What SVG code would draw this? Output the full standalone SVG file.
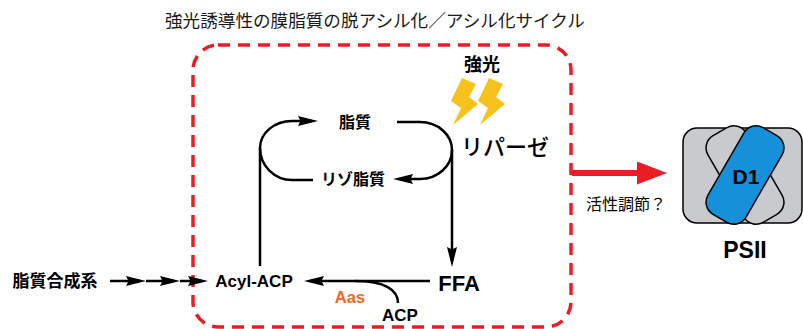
<svg xmlns="http://www.w3.org/2000/svg" width="803" height="329" viewBox="0 0 803 329">
  <style>
    .jp { font-family: "Noto Sans CJK JP", "Noto Sans", sans-serif; }
    .jpb { font-family: "Noto Sans CJK JP", "Noto Sans", sans-serif; font-weight: bold; }
    .lat { font-family: "Liberation Sans", Arial, "Noto Sans CJK JP", sans-serif; font-weight: bold; }
    .flow { fill: none; stroke: #000; stroke-width: 2.5; }
    .bolt { fill: #f6c21b; }
  </style>
  <defs>
    <marker id="arrow" markerUnits="userSpaceOnUse" markerWidth="20" markerHeight="10" viewBox="0 0 20 10" refX="14" refY="5" orient="auto">
      <path d="M0,0 L20,5 L0,10 L2.5,5 z" fill="#000"/>
    </marker>
    <marker id="redArrow" markerUnits="userSpaceOnUse" markerWidth="30" markerHeight="23" viewBox="0 0 30 23" refX="22" refY="11.5" orient="auto">
      <path d="M0,0 L30,11.5 L0,23 z" fill="#ec1c24"/>
    </marker>
  </defs>

  <!-- title -->
  <g id="title">
    <text class="jp" x="165" y="27" font-size="17.6" fill="#1a1a1a">強光誘導性の膜脂質の脱アシル化／アシル化サイクル</text>
  </g>

  <!-- dashed frame around the cycle -->
  <g id="cycle-frame">
    <rect x="193" y="45" width="378" height="282" rx="25" fill="none" stroke="#ec1c24" stroke-width="3.5" stroke-dasharray="12 8"/>
  </g>

  <!-- connectors -->
  <g id="connectors">
    <!-- left loop: Acyl-ACP up to lipid, lyso-lipid back in -->
    <path class="flow" d="M260,266 L260,148 A32,27 0 0 1 292,121 L312,121" marker-end="url(#arrow)"/>
    <path class="flow" d="M260,148 A32,32 0 0 0 292,180 L313,180"/>
    <!-- right loop: lipid down to FFA, branch to lyso-lipid -->
    <path class="flow" d="M397,122 L420,122 A32,28 0 0 1 452,150 L452,261" marker-end="url(#arrow)"/>
    <path class="flow" d="M452,150 A32,29 0 0 1 420,179 L399,179" marker-end="url(#arrow)"/>
    <!-- FFA to Acyl-ACP via Aas -->
    <path class="flow" d="M430,281 L310,281" marker-end="url(#arrow)"/>
    <path class="flow" d="M398,303 C398,290 385,281 355,281"/>
    <!-- lipid synthesis chain -->
    <path class="flow" d="M110,281 L140,281" marker-end="url(#arrow)"/>
    <path class="flow" d="M146,281 L174,281" marker-end="url(#arrow)"/>
    <path class="flow" d="M180,281 L202,281" marker-end="url(#arrow)"/>
    <!-- regulation of PSII -->
    <path d="M572,173 L659,173" fill="none" stroke="#ec1c24" stroke-width="6" marker-end="url(#redArrow)"/>
  </g>

  <g id="lipid">
    <text class="jpb" x="355" y="128" font-size="16" text-anchor="middle">脂質</text>
  </g>
  <g id="lysolipid">
    <text class="jpb" x="353" y="185" font-size="16" text-anchor="middle">リゾ脂質</text>
  </g>
  <g id="acyl-acp">
    <text class="lat" x="254" y="287" font-size="17" text-anchor="middle">Acyl-ACP</text>
  </g>
  <g id="ffa">
    <text class="lat" x="459" y="291" font-size="22" text-anchor="middle">FFA</text>
  </g>
  <g id="aas">
    <text class="lat" x="350" y="303" font-size="16.5" text-anchor="middle" fill="#f26522">Aas</text>
  </g>
  <g id="acp">
    <text class="lat" x="400" y="321" font-size="17" text-anchor="middle">ACP</text>
  </g>
  <g id="lipase">
    <text class="jp" x="505" y="155" font-size="22" font-weight="500" text-anchor="middle">リパーゼ</text>
  </g>
  <g id="strong-light">
    <text class="jpb" x="482" y="71" font-size="18" text-anchor="middle">強光</text>
    <polygon class="bolt" points="462,78 476,84 469,97 478,104 453,125 461,108 451,101"/>
    <polygon class="bolt" points="489,78 503,84 496,97 505,104 480,125 488,108 478,101"/>
  </g>
  <g id="lipid-synthesis">
    <text class="jpb" x="55" y="287" font-size="17" text-anchor="middle">脂質合成系</text>
  </g>
  <g id="regulation-label">
    <text class="jp" x="626" y="210" font-size="16" text-anchor="middle">活性調節？</text>
  </g>

  <!-- photosystem II complex -->
  <g id="psii">
    <rect x="683" y="128" width="119" height="95" rx="14" fill="#c9cacd" stroke="#000" stroke-width="1.5"/>
    <rect x="-50" y="-22" width="100" height="44" rx="14" transform="translate(745,175) rotate(60)" fill="#c9cacd" stroke="#000" stroke-width="1.5"/>
    <rect x="-50" y="-22" width="100" height="44" rx="14" transform="translate(745,175) rotate(-60)" fill="#1690d8" stroke="#000" stroke-width="1.5"/>
    <text class="lat" x="746" y="184" font-size="21" text-anchor="middle">D1</text>
    <text class="lat" x="745" y="258" font-size="23" text-anchor="middle">PSII</text>
  </g>
</svg>
